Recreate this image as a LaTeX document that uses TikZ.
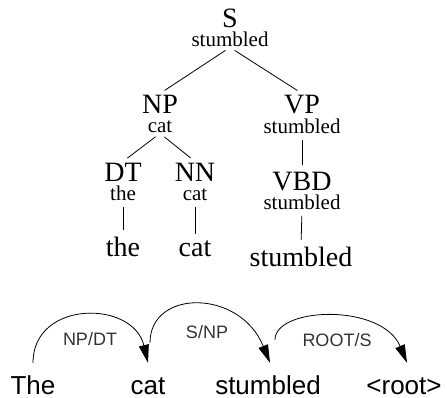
\documentclass[tikz,border=0pt]{standalone}
\usepackage{fontspec}
\setmainfont{Liberation Serif}
\setsansfont{Liberation Sans}
\usetikzlibrary{arrows.meta}

\begin{document}
\begin{tikzpicture}[
    x=1pt, y=1pt,
    catlabel/.style={font=\fontsize{28}{28}\selectfont, anchor=base, inner xsep=2pt, inner ysep=1pt},
    headword/.style={font=\fontsize{21}{21}\selectfont, anchor=base, inner xsep=2pt, inner ysep=1pt},
    leafword/.style={catlabel},
    depword/.style={font=\sffamily\fontsize{26}{26}\selectfont, anchor=base, text height=19pt, text depth=0pt, inner ysep=1pt},
    deplabel/.style={font=\sffamily\fontsize{18}{18}\selectfont, text=black!80},
    branch/.style={line width=0.8pt, shorten <=5.5pt, shorten >=5.5pt},
    deparc/.style={line width=0.8pt, -{Triangle[length=18pt, width=10pt]}}
]
    \useasboundingbox (0,0) rectangle (447,-397);

    % Phrase structure tree
    \node[catlabel] (s) at (230,-27) {S};
    \node[headword] (sHead) at (230,-46) {stumbled};

    \node[catlabel] (np) at (160,-113) {NP};
    \node[headword] (npHead) at (160,-132) {cat};
    \node[catlabel] (vp) at (302,-113) {VP};
    \node[headword] (vpHead) at (302,-133) {stumbled};

    \node[catlabel] (dt) at (123,-181) {DT};
    \node[headword] (dtHead) at (123,-200) {the};
    \node[catlabel] (nn) at (195,-181) {NN};
    \node[headword] (nnHead) at (195,-200) {cat};
    \node[catlabel] (vbd) at (302,-190) {VBD};
    \node[headword] (vbdHead) at (302,-209) {stumbled};

    \node[leafword] (theLeaf) at (123,-256) {the};
    \node[leafword] (catLeaf) at (195,-256) {cat};
    \node[leafword] (stumLeaf) at (301,-266) {stumbled};

    \draw[branch] (sHead.south) -- (np.north);
    \draw[branch] (sHead.south) -- (vp.north);
    \draw[branch] (npHead.south) -- (dt.north);
    \draw[branch] (npHead.south) -- (nn.north);
    \draw[branch] (vpHead.south) -- (vbd.north);
    \draw[branch] (dtHead.south) -- (theLeaf.north);
    \draw[branch] (nnHead.south) -- (catLeaf.north);
    \draw[branch] (vbdHead.south) -- (stumLeaf.north);

    % Dependency arcs
    \node[depword] (theW) at (33,-394) {The};
    \node[depword] (catW) at (148,-394) {cat};
    \node[depword] (stumW) at (268,-394) {stumbled};
    \node[depword] (rootW) at (404,-394) {<root>};

    \draw[deparc] ([yshift=11]theW.north) .. controls +(0,63) and +(-15,63) .. ([yshift=11]catW.north);
    \draw[deparc] ([shift={(2,31)}]catW.north) .. controls +(0,54) and +(-30,74) .. ([shift={(2,11)}]stumW.north);
    \draw[deparc] ([shift={(7,34)}]stumW.north) .. controls +(0,33) and +(-25,60) .. ([shift={(3,11)}]rootW.north);

    \node[deplabel] (npdt) at (90,-339) {NP/DT};
    \node[deplabel] (snp) at (207,-332) {S/NP};
    \node[deplabel] (roots) at (337,-340) {ROOT/S};
\end{tikzpicture}
\end{document}
